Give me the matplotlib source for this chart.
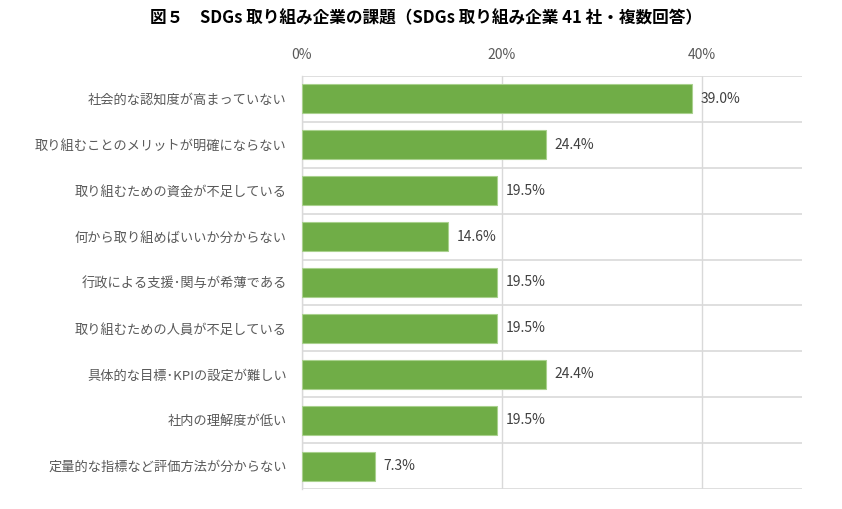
import matplotlib
matplotlib.use("Agg")
import matplotlib.pyplot as plt
import numpy as np

plt.rcParams['font.family'] = ['Noto Sans CJK JP', 'DejaVu Sans']

categories = [
    "社会的な認知度が高まっていない",
    "取り組むことのメリットが明確にならない",
    "取り組むための資金が不足している",
    "何から取り組めばいいか分からない",
    "行政による支援･関与が希薄である",
    "取り組むための人員が不足している",
    "具体的な目標･KPIの設定が難しい",
    "社内の理解度が低い",
    "定量的な指標など評価方法が分からない",
]
values = [39.0, 24.4, 19.5, 14.6, 19.5, 19.5, 24.4, 19.5, 7.3]
xticks = [0, 20, 40]
xticklabels = ["0%", "20%", "40%"]
title = "図５　SDGs 取り組み企業の課題（SDGs 取り組み企業 41 社・複数回答）"

fig = plt.figure(figsize=(8.42, 5.09), dpi=100)
ax = fig.add_axes([302/842, 1-489/509, 500/842, (489-76)/509])

y = np.arange(len(categories))
ax.barh(y, values, height=0.63, color='#70AD47', edgecolor='#A9D18E', linewidth=0.8, zorder=3)

ax.set_xlim(0, 50)
ax.set_ylim(len(categories)-0.5, -0.5)
ax.set_yticks(y)
ax.set_yticklabels(categories, fontsize=9.5, color='#595959')
ax.set_xticks(xticks)
ax.set_xticklabels(xticklabels, fontsize=10, color='#595959')
ax.xaxis.tick_top()
ax.tick_params(axis='x', length=0, pad=10)
ax.tick_params(axis='y', length=0, pad=11)

ax.set_yticks(np.arange(-0.5, len(categories), 1), minor=True)
ax.tick_params(axis='y', which='minor', length=0)
ax.grid(axis='y', which='minor', color='#D9D9D9', linewidth=1.2, zorder=0)
ax.grid(axis='x', which='major', color='#D9D9D9', linewidth=1.0, zorder=0)
ax.grid(axis='y', which='major', visible=False)

for s in ['top', 'right', 'bottom']:
    ax.spines[s].set_visible(False)
ax.spines['left'].set_color('#D9D9D9')
ax.spines['left'].set_linewidth(1.0)

for yi, v in zip(y, values):
    ax.annotate(f"{v:.1f}%", xy=(v, yi), xytext=(6, 0), textcoords='offset points',
                va='center', ha='left', fontsize=10, color='#404040')

fig.text(0.506, 1-18/509, title, ha='center', va='center', fontsize=12, fontweight='bold', color='#000000')

fig.savefig('out.png', dpi=100)
